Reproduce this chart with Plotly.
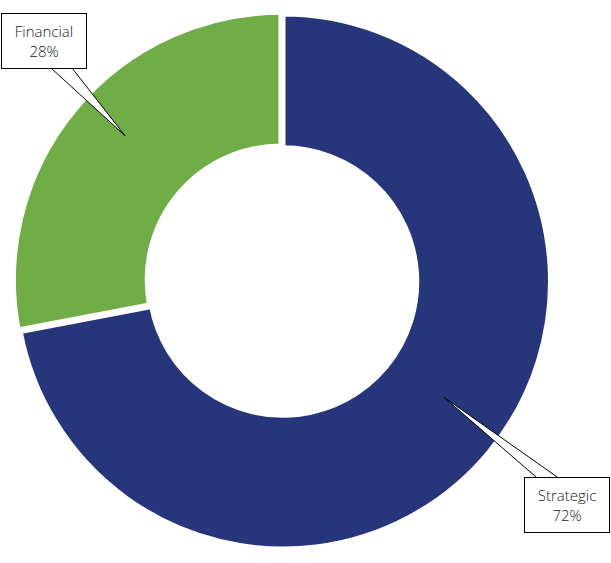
import plotly.graph_objects as go

# ---- data ----
labels = ["Strategic", "Financial"]
values = [72, 28]
colors = ["#27357B", "#70AD47"]
pulls = [0, 0.01]

W, H = 611, 563

def px(x):
    return x / W

def py(y):
    return 1 - y / H

# ---- layout of the pie (pixels) ----
cx, cy, R = 283.0, 281.5, 267.5
Rd = R * (1 + max(pulls))

fig = go.Figure()
fig.add_trace(go.Pie(
    labels=labels,
    values=values,
    pull=pulls,
    sort=False,
    direction="clockwise",
    rotation=0,
    hole=0.5,
    textinfo="none",
    hoverinfo="label+percent",
    marker=dict(colors=colors, line=dict(color="white", width=5)),
    domain=dict(x=[px(cx - Rd), px(cx + Rd)], y=[py(cy + Rd), py(cy - Rd)]),
    showlegend=False,
))

# ---- callout label layout (pixels): box centre, wedge base, wedge tip ----
callouts = [
    dict(i=1, box=(43.5, 41.5), base=[(51, 68), (72, 68)], tip=(125, 135.7)),
    dict(i=0, box=(567, 504.5), base=[(538.3, 479), (560, 479)], tip=(444, 397.3)),
]

total = sum(values)
for c in callouts:
    (b1x, b1y), (b2x, b2y) = c["base"]
    tx, ty = c["tip"]
    path = (f"M {px(b1x)},{py(b1y)} L {px(tx)},{py(ty)} "
            f"L {px(b2x)},{py(b2y)} Z")
    fig.add_shape(type="path", path=path, xref="paper", yref="paper",
                  fillcolor="white", line=dict(color="black", width=1),
                  layer="above")
    pct = round(values[c["i"]] / total * 100)
    bx, by = c["box"]
    fig.add_annotation(
        x=px(bx), y=py(by), xref="paper", yref="paper",
        xanchor="center", yanchor="middle",
        text=f"{labels[c['i']]}<br>{pct}%",
        showarrow=False, align="center",
        width=84, height=54, borderpad=0, borderwidth=1,
        bordercolor="black", bgcolor="white",
        font=dict(family="Open Sans", size=15, color="#1a1a1a", weight=300),
    )

fig.update_layout(
    width=W, height=H,
    margin=dict(l=0, r=0, t=0, b=0),
    paper_bgcolor="white", plot_bgcolor="white",
)

fig.write_html("out.html",
               config={"displayModeBar": False},
               post_script="document.body.style.margin='0px';")
